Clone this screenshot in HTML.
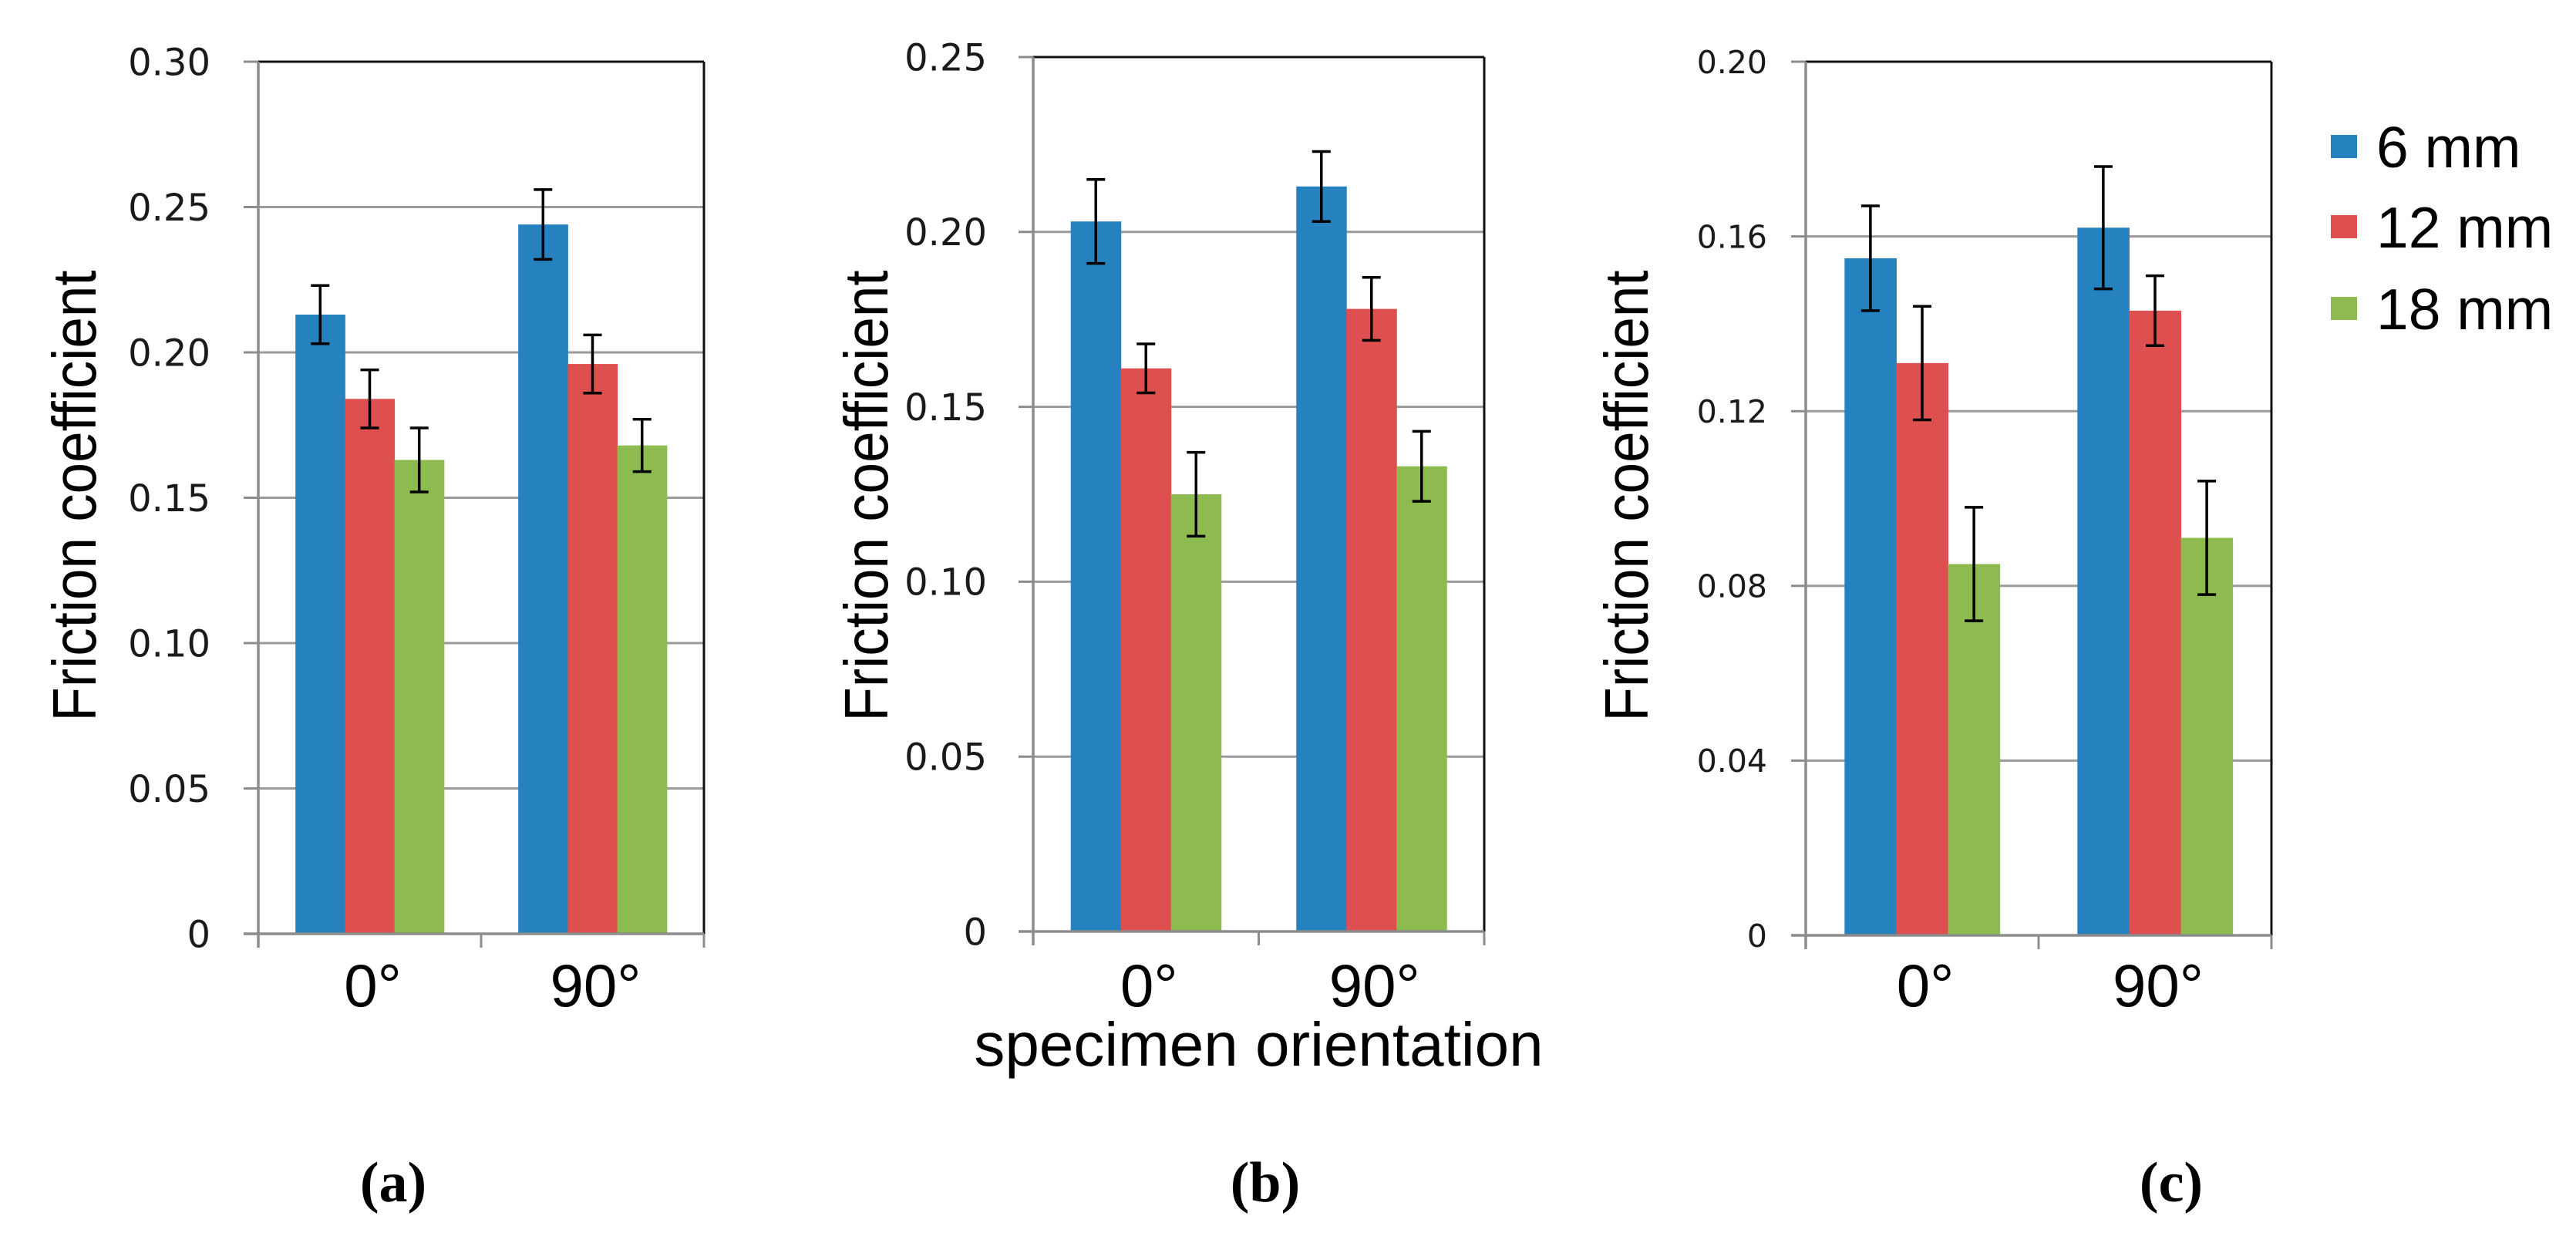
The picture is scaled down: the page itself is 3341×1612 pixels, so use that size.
<!DOCTYPE html>
<html><head><meta charset="utf-8"><style>
html,body{margin:0;padding:0;background:#fff;}
svg{display:block;}
.tick{font-family:"DejaVu Sans",sans-serif;fill:#1a1a1a;}
.cat{font-family:"Liberation Sans",Arial,sans-serif;font-size:78px;fill:#000;}
.ttl{font-family:"Liberation Sans",Arial,sans-serif;font-size:80px;fill:#000;}
.cap{font-family:"Liberation Serif",serif;font-weight:bold;font-size:74px;fill:#000;}
.leg{font-family:"Liberation Sans",Arial,sans-serif;font-size:75px;fill:#000;}
</style></head><body>
<svg id="fig" width="3341" height="1612" viewBox="0 0 3341 1612" xmlns="http://www.w3.org/2000/svg">
<rect width="3341" height="1612" fill="#fff"/>
</svg>
<script>
const categories = ["0°", "90°"];
const seriesNames = ["6 mm", "12 mm", "18 mm"];
const seriesColors = ["#2681BF", "#DE4F4F", "#8DBB50"];
// panel (a)
const aSixMm = [0.213, 0.244];
const aTwelveMm = [0.184, 0.196];
const aEighteenMm = [0.163, 0.168];
const aSixErr = [0.010, 0.012];
const aTwelveErr = [0.010, 0.010];
const aEighteenErr = [0.011, 0.009];
const aTicks = [0, 0.05, 0.10, 0.15, 0.20, 0.25, 0.30];
const aTickLabels = ["0", "0.05", "0.10", "0.15", "0.20", "0.25", "0.30"];
// panel (b)
const bSixMm = [0.203, 0.213];
const bTwelveMm = [0.161, 0.178];
const bEighteenMm = [0.125, 0.133];
const bSixErr = [0.012, 0.010];
const bTwelveErr = [0.007, 0.009];
const bEighteenErr = [0.012, 0.010];
const bTicks = [0, 0.05, 0.10, 0.15, 0.20, 0.25];
const bTickLabels = ["0", "0.05", "0.10", "0.15", "0.20", "0.25"];
// panel (c)
const cSixMm = [0.155, 0.162];
const cTwelveMm = [0.131, 0.143];
const cEighteenMm = [0.085, 0.091];
const cSixErr = [0.012, 0.014];
const cTwelveErr = [0.013, 0.008];
const cEighteenErr = [0.013, 0.013];
const cTicks = [0, 0.04, 0.08, 0.12, 0.16, 0.20];
const cTickLabels = ["0", "0.04", "0.08", "0.12", "0.16", "0.20"];

const NS = "http://www.w3.org/2000/svg";
const svg = document.getElementById("fig");
function mk(tag, attrs, parent, text) {
  const e = document.createElementNS(NS, tag);
  for (const k in attrs) e.setAttribute(k, attrs[k]);
  if (text !== undefined) e.textContent = text;
  (parent || svg).appendChild(e);
  return e;
}

function panel(id, box, ticks, tickLabels, vals, errs, tickFont, titleX, xTitle, capX, capLabel) {
  const g = mk("g", {});
  
  
  const yMax = ticks[ticks.length - 1];
  const y = v => box.bottom - (v / yMax) * (box.bottom - box.top);
  const catW = (box.right - box.left) / categories.length;
  const barW = catW / 4.5;
  const x = (ci, si) => box.left + ci * catW + 0.75 * barW + si * barW;

  ticks.forEach((t, i) => {
    const yy = y(t);
    if (i > 0 && i < ticks.length - 1) {
      const gl = mk("line", {x1: box.left, x2: box.right, y1: yy, y2: yy, stroke: "#9a9a9a", "stroke-width": 3}, g);
      
      
    }
    const tk = mk("line", {x1: box.left - 19, x2: box.left, y1: yy, y2: yy, stroke: "#8c8c8c", "stroke-width": 3}, g);
    
    
    const tl = mk("text", {x: box.labelRight, y: yy + tickFont * 0.36, "text-anchor": "end", class: "tick", "font-size": tickFont}, g, tickLabels[i]);
    
    
  });

  categories.forEach((c, ci) => {
    vals.forEach((arr, si) => {
      const r = mk("rect", {x: x(ci, si), y: y(arr[ci]), width: barW + 0.5, height: box.bottom - y(arr[ci]), fill: seriesColors[si]}, g);
      
      
    });
  });
  categories.forEach((c, ci) => {
    vals.forEach((arr, si) => {
      const cx = x(ci, si) + barW / 2;
      const hi = y(arr[ci] + errs[si][ci]), lo = y(arr[ci] - errs[si][ci]);
      const eg = mk("g", {stroke: "#000", "stroke-width": 3.5}, g);
      
      
      mk("line", {x1: cx, x2: cx, y1: hi, y2: lo}, eg);
      mk("line", {x1: cx - 12, x2: cx + 12, y1: hi, y2: hi}, eg);
      mk("line", {x1: cx - 12, x2: cx + 12, y1: lo, y2: lo}, eg);
    });
  });

  const fr = mk("g", {}, g);
  
  
  mk("line", {x1: box.left, x2: box.right, y1: box.top, y2: box.top, stroke: "#111", "stroke-width": 3}, fr);
  mk("line", {x1: box.right, x2: box.right, y1: box.top, y2: box.bottom, stroke: "#111", "stroke-width": 3}, fr);
  mk("line", {x1: box.left, x2: box.left, y1: box.top, y2: box.bottom + 18, stroke: "#8c8c8c", "stroke-width": 3.5}, fr);
  mk("line", {x1: box.left - 19, x2: box.right, y1: box.bottom, y2: box.bottom, stroke: "#8c8c8c", "stroke-width": 3.5}, fr);
  for (let k = 1; k <= categories.length; k++) {
    const xx = box.left + k * catW;
    mk("line", {x1: xx, x2: xx, y1: box.bottom, y2: box.bottom + 18, stroke: "#8c8c8c", "stroke-width": 3}, fr);
  }

  categories.forEach((c, ci) => {
    const t = mk("text", {x: box.left + (ci + 0.5) * catW + 4, y: 1305, "text-anchor": "middle", class: "cat"}, g, c);
    
    
  });

  const yt = mk("text", {x: 0, y: 0, "text-anchor": "middle", class: "ttl",
    transform: "translate(" + titleX + ",643) rotate(-90) scale(0.91,1)"}, g, "Friction coefficient");
  
  

  if (xTitle) {
    const xt = mk("text", {x: (box.left + box.right) / 2, y: 1382, "text-anchor": "middle", class: "ttl"}, g, xTitle);
    
    
  }
  const cp = mk("text", {x: capX, y: 1558, "text-anchor": "middle", class: "cap"}, g, capLabel);
  
  
}

panel("a", {left: 335, right: 913, top: 80, bottom: 1211, labelRight: 273}, aTicks, aTickLabels,
  [aSixMm, aTwelveMm, aEighteenMm], [aSixErr, aTwelveErr, aEighteenErr], 48, 124, null, 510, "(a)");
panel("b", {left: 1340, right: 1925, top: 74, bottom: 1208, labelRight: 1280}, bTicks, bTickLabels,
  [bSixMm, bTwelveMm, bEighteenMm], [bSixErr, bTwelveErr, bEighteenErr], 48, 1151, "specimen orientation", 1641, "(b)");
panel("c", {left: 2342, right: 2946, top: 80, bottom: 1213, labelRight: 2292}, cTicks, cTickLabels,
  [cSixMm, cTwelveMm, cEighteenMm], [cSixErr, cTwelveErr, cEighteenErr], 41, 2137, null, 2816, "(c)");

const legY = [190, 294, 400];
const lg = mk("g", {});


seriesNames.forEach((n, i) => {
  const e = mk("g", {}, lg);
  
  
  mk("rect", {x: 3023, y: legY[i] - 15, width: 34, height: 30, fill: seriesColors[i]}, e);
  mk("text", {x: 3082, y: legY[i] + 27, class: "leg"}, e, n);
});
</script>
</body></html>
